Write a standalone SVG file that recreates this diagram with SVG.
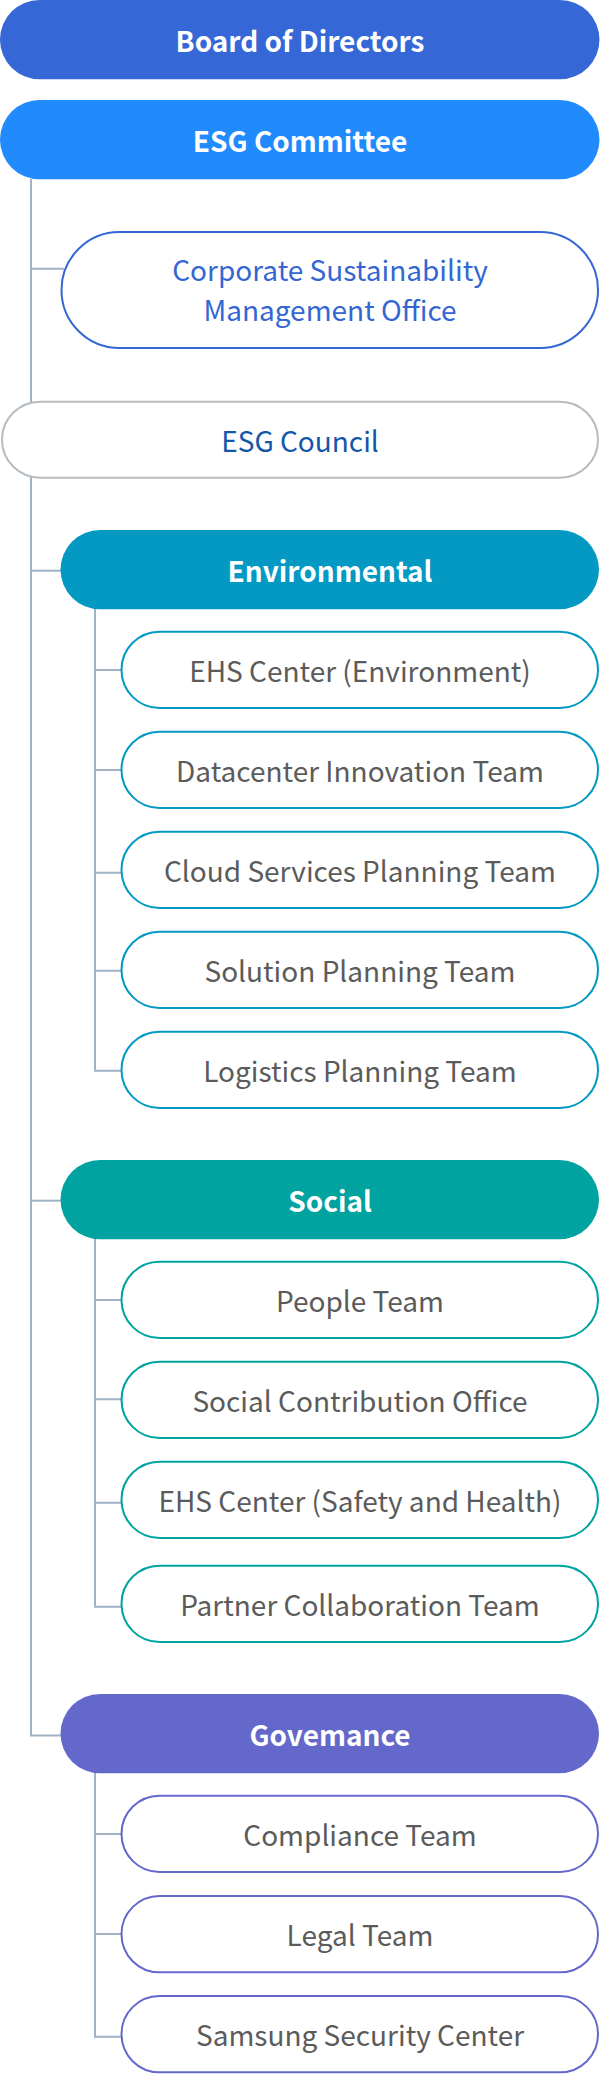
<svg xmlns="http://www.w3.org/2000/svg" width="600" height="2074" viewBox="0 0 600 2074">
<style>
text{font-family:"Noto Sans CJK KR","Noto Sans",sans-serif;font-size:28px;text-anchor:middle}
.b{font-weight:700;fill:#ffffff}
.c{font-weight:400;fill:#5b5b5b}
.con{fill:none;stroke:#a0b3c5;stroke-width:2}
.env{fill:#ffffff;stroke:#0399c3;stroke-width:2}
.soc{fill:#ffffff;stroke:#01a3a0;stroke-width:2}
.gov{fill:#ffffff;stroke:#6468cb;stroke-width:2}
</style>
<rect width="600" height="2074" fill="#ffffff"/>
<g id="connectors" class="con">
<path d="M31 179 V1735.5 H62"/>
<path d="M31 268.7 H64"/>
<path d="M31 570.7 H62"/>
<path d="M31 1200.7 H62"/>
<path d="M95 609 V1070.7 H122"/>
<path d="M95 670 H122 M95 770 H122 M95 872.7 H122 M95 970.7 H123"/>
<path d="M95 1239 V1606.7 H122"/>
<path d="M95 1300 H122 M95 1399.3 H122 M95 1502.7 H122"/>
<path d="M95 1773 V2036.7 H122"/>
<path d="M95 1834 H122 M95 1934 H122"/>
</g>
<g id="board">
<rect x="0" y="0" width="599.5" height="79.3" rx="39.6" fill="#3567d7"/>
<text class="b" x="300" y="51.7">Board of Directors</text>
</g>
<g id="esg-committee">
<rect x="0" y="100" width="599.5" height="79.3" rx="39.6" fill="#218bfe"/>
<text class="b" x="300" y="151.5">ESG Committee</text>
</g>
<g id="csmo">
<rect x="61.5" y="232" width="536.5" height="116" rx="58" fill="#ffffff" stroke="#3466d4" stroke-width="2"/>
<text x="330" y="281" fill="#3466d4">Corporate Sustainability</text>
<text x="330" y="321" fill="#3466d4">Management Office</text>
</g>
<g id="esg-council">
<rect x="2" y="401.7" width="596" height="76" rx="38" fill="#ffffff" stroke="#b7bcc1" stroke-width="2"/>
<text x="300" y="451.5" fill="#1457a8">ESG Council</text>
</g>
<g id="environmental">
<rect x="60.5" y="530" width="538.5" height="79.3" rx="39.6" fill="#0399c3"/>
<text class="b" x="330" y="581.7">Environmental</text>
</g>
<g id="ehs-env">
<rect class="env" x="121.5" y="631.7" width="476.5" height="76.3" rx="38"/>
<text class="c" x="360" y="681.7">EHS Center (Environment)</text>
</g>
<g id="datacenter">
<rect class="env" x="121.5" y="731.7" width="476.5" height="76.3" rx="38"/>
<text class="c" x="360" y="781.7">Datacenter Innovation Team</text>
</g>
<g id="cloud">
<rect class="env" x="121.5" y="831.7" width="476.5" height="76.3" rx="38"/>
<text class="c" x="360" y="881.7">Cloud Services Planning Team</text>
</g>
<g id="solution">
<rect class="env" x="121.5" y="931.7" width="476.5" height="76.3" rx="38"/>
<text class="c" x="360" y="981.7">Solution Planning Team</text>
</g>
<g id="logistics">
<rect class="env" x="121.5" y="1031.7" width="476.5" height="76.3" rx="38"/>
<text class="c" x="360" y="1081.7">Logistics Planning Team</text>
</g>
<g id="social">
<rect x="60.5" y="1160" width="538.5" height="79.3" rx="39.6" fill="#01a3a0"/>
<text class="b" x="330" y="1211.7">Social</text>
</g>
<g id="people">
<rect class="soc" x="121.5" y="1261.7" width="476.5" height="76.3" rx="38"/>
<text class="c" x="360" y="1311.7">People Team</text>
</g>
<g id="social-contribution">
<rect class="soc" x="121.5" y="1361.7" width="476.5" height="76.3" rx="38"/>
<text class="c" x="360" y="1411.7">Social Contribution Office</text>
</g>
<g id="ehs-safety">
<rect class="soc" x="121.5" y="1461.7" width="476.5" height="76.3" rx="38"/>
<text class="c" x="360" y="1511.7">EHS Center (Safety and Health)</text>
</g>
<g id="partner">
<rect class="soc" x="121.5" y="1565.7" width="476.5" height="76.3" rx="38"/>
<text class="c" x="360" y="1615.7">Partner Collaboration Team</text>
</g>
<g id="governance">
<rect x="60.5" y="1694" width="538.5" height="79.3" rx="39.6" fill="#6468cb"/>
<text class="b" x="330" y="1745.7">Govemance</text>
</g>
<g id="compliance">
<rect class="gov" x="121.5" y="1795.7" width="476.5" height="76.3" rx="38"/>
<text class="c" x="360" y="1845.7">Compliance Team</text>
</g>
<g id="legal">
<rect class="gov" x="121.5" y="1896" width="476.5" height="76.3" rx="38"/>
<text class="c" x="360" y="1946">Legal Team</text>
</g>
<g id="samsung-security">
<rect class="gov" x="121.5" y="1996" width="476.5" height="76.3" rx="38"/>
<text class="c" x="360" y="2046">Samsung Security Center</text>
</g>
</svg>
